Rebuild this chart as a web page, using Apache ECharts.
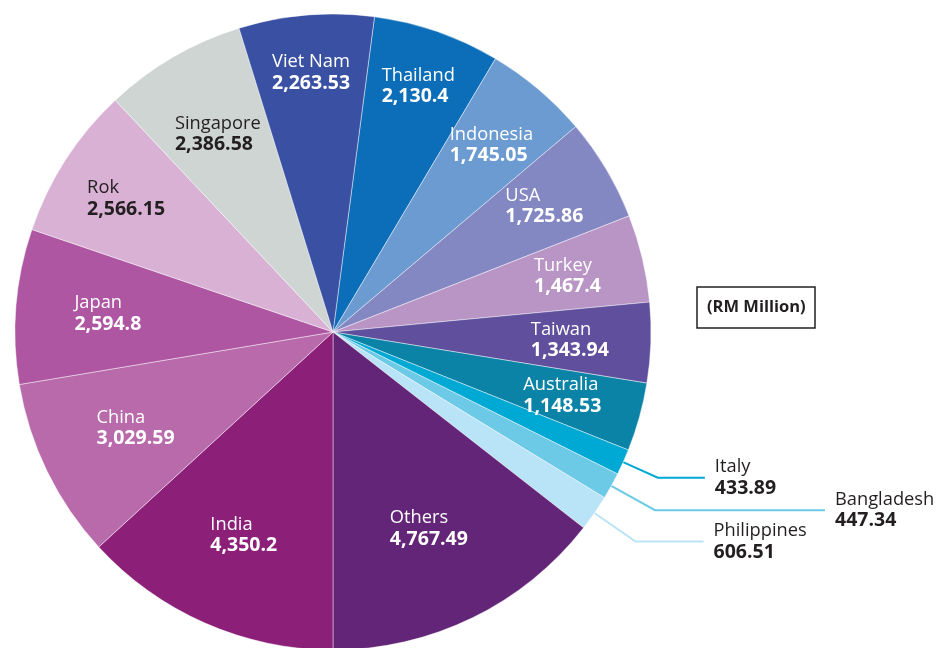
<!DOCTYPE html>
<html>
<head>
<meta charset="utf-8">
<script src="https://cdn.jsdelivr.net/npm/echarts@6/dist/echarts.min.js"></script>
<style>
  html, body { margin: 0; padding: 0; background: #fff; }
  #chart { width: 941px; height: 648px; }
</style>
</head>
<body>
<div id="chart"></div>
<script>
// export values (RM Million), clockwise from Thailand
var countries = ['Thailand', 'Indonesia', 'USA', 'Turkey', 'Taiwan', 'Australia',
  'Italy', 'Bangladesh', 'Philippines', 'Others', 'India', 'China', 'Japan',
  'Rok', 'Singapore', 'Viet Nam'];
var values = [2130.4, 1745.05, 1725.86, 1467.4, 1343.94, 1148.53,
  433.89, 447.34, 606.51, 4767.49, 4350.2, 3029.59, 2594.8,
  2566.15, 2386.58, 2263.53];
var sliceColors = ['#0c6db8', '#6b9bd1', '#8387c2', '#b995c6', '#5f4f9c', '#0a83a6',
  '#00a8d4', '#6ccae6', '#b9e3f6', '#632577', '#8c2079', '#b86aab', '#ae56a2',
  '#d8b1d4', '#cfd5d3', '#3a51a3'];
// how far from the centre each in-slice label sits (px)
var labelDist = [257, 242, 243, 238, 234, 235, 0, 0, 0, 216, 219, 217, 223, 243, 226, 257];
var darkText = ['Rok', 'Singapore'];
var outsideNames = ['Italy', 'Bangladesh', 'Philippines'];

var fontFam = '"Open Sans", "Noto Sans", sans-serif';
var cx = 333, cy = 332, R = 318, midR = 235;

function fmt(v) {
  var parts = String(v).split('.');
  parts[0] = parts[0].replace(/\B(?=(\d{3})+(?!\d))/g, ',');
  return parts.join('.');
}

// leader line lengths for the three small slices
var leader = {
  'Italy': [38, 47],
  'Bangladesh': [50, 170],
  'Philippines': [50, 68]
};

var mainData = countries.map(function (n, i) {
  var d = { name: n, value: values[i], itemStyle: { color: sliceColors[i] } };
  if (outsideNames.indexOf(n) >= 0) {
    d.label = { show: true };
    d.labelLine = { show: true, length: leader[n][0], length2: leader[n][1],
      lineStyle: { color: sliceColors[i], width: 2 } };
  }
  return d;
});

var labelData = countries.map(function (n, i) {
  var c = darkText.indexOf(n) >= 0 ? '#231f20' : '#ffffff';
  return {
    name: n, value: values[i],
    label: {
      show: outsideNames.indexOf(n) < 0,
      rich: {
        n: { color: c, fontSize: 18.3, fontFamily: fontFam, align: 'left', lineHeight: 21 },
        v: { color: c, fontSize: 19.5, fontWeight: 'bold', fontFamily: fontFam, align: 'left', lineHeight: 21 }
      }
    }
  };
});

var chart = echarts.init(document.getElementById('chart'));
chart.setOption({
  animation: false,
  title: {
    text: '(RM Million)',
    left: 697, top: 287,
    padding: [12, 10, 12, 10],
    borderColor: '#231f20', borderWidth: 1.5,
    textStyle: { fontSize: 16.5, fontWeight: 'bold', color: '#231f20', fontFamily: fontFam }
  },
  series: [
    {
      type: 'pie',
      center: [cx, cy],
      radius: [0, R],
      startAngle: 82.5,
      clockwise: true,
      avoidLabelOverlap: false,
      silent: true,
      itemStyle: { borderColor: 'rgba(255,255,255,0.55)', borderWidth: 0.8 },
      label: {
        show: false,
        position: 'outside',
        distanceToLabelLine: 10,
        formatter: function (p) { return '{n|' + p.name + '}\n{v|' + fmt(p.value) + '}'; },
        rich: {
          n: { color: '#231f20', fontSize: 18.3, fontFamily: fontFam, align: 'left', lineHeight: 21 },
          v: { color: '#231f20', fontSize: 19.5, fontWeight: 'bold', fontFamily: fontFam, align: 'left', lineHeight: 21 }
        }
      },
      labelLine: { show: false },
      data: mainData
    },
    {
      // transparent ring that carries the in-slice labels
      type: 'pie',
      center: [cx, cy],
      radius: [2 * midR - R, R],
      startAngle: 82.5,
      clockwise: true,
      silent: true,
      avoidLabelOverlap: false,
      itemStyle: { color: 'rgba(0,0,0,0)' },
      label: {
        position: 'inside',
        align: 'center',
        formatter: function (p) { return '{n|' + p.name + '}\n{v|' + fmt(p.value) + '}'; }
      },
      labelLine: { show: false },
      labelLayout: function (p) {
        var r = p.labelRect;
        var lx = r.x + r.width / 2, ly = r.y + r.height / 2;
        var k = labelDist[p.dataIndex] / midR - 1;
        return { dx: (lx - cx) * k, dy: (ly - cy) * k };
      },
      data: labelData
    }
  ]
});
</script>
</body>
</html>
